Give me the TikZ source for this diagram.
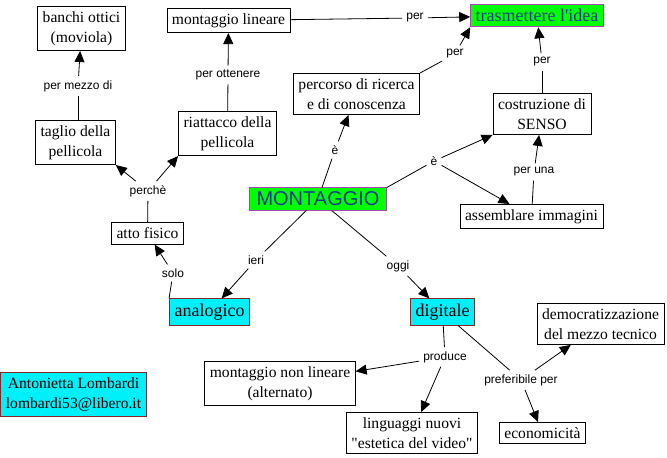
\documentclass[tikz,border=0pt]{standalone}
\usepackage{fontspec}
\setmainfont{Liberation Serif}[Ligatures=TeXOff]
\setsansfont{Liberation Sans}
\usetikzlibrary{arrows.meta}
\definecolor{kgreen}{RGB}{0,255,0}
\definecolor{kcyan}{RGB}{0,240,250}
\definecolor{kpurple}{RGB}{170,70,180}
\definecolor{kred}{RGB}{130,40,40}
\definecolor{kblue}{RGB}{20,55,150}
\tikzset{
  concept/.style={draw=black, line width=0.9pt, fill=white, align=center, inner xsep=5pt, inner ysep=5pt, font=\fontsize{15.6}{20}\selectfont},
  greenbox/.style={concept, fill=kgreen, draw=kpurple, text=kblue, font=\fontsize{18}{21}\selectfont},
  cyanbox/.style={concept, fill=kcyan, draw=kred, font=\fontsize{18}{21}\selectfont},
  lbl/.style={font=\sffamily\fontsize{12}{14}\selectfont, inner sep=4pt, fill=white},
  link/.style={line width=0.8pt},
  arr/.style={line width=0.8pt, -{Triangle[length=11pt,width=10pt]}},
}
\begin{document}
\begin{tikzpicture}[x=1pt,y=-1pt]
\useasboundingbox (0,0) rectangle (667,458);
% concepts
\node[concept] (banchi) at (81.5,28.5) {banchi ottici\\(moviola)};
\node[concept] (mlin) at (228.5,20.5) {montaggio lineare};
\node[greenbox] (idea) at (537,15.5) {trasmettere l'idea};
\node[concept] (perc) at (356.5,94) {percorso di ricerca\\e di conoscenza};
\node[concept] (senso) at (542,114) {costruzione di\\SENSO};
\node[concept] (taglio) at (75.5,142.5) {taglio della\\pellicola};
\node[concept] (riatt) at (227.5,133.5) {riattacco della\\pellicola};
\node[greenbox, font=\sffamily\fontsize{20}{22}\selectfont, inner xsep=7pt, inner ysep=4pt] (mont) at (318,199) {MONTAGGIO};
\node[concept] (assem) at (531.5,216.5) {assemblare immagini};
\node[concept] (atto) at (147.5,233.5) {atto fisico};
\node[cyanbox] (analog) at (209.5,312) {analogico};
\node[cyanbox] (digit) at (442.5,312) {digitale};
\node[concept] (democ) at (600.5,324) {democratizzazione\\del mezzo tecnico};
\node[concept] (nonlin) at (280,383.5) {montaggio non lineare\\(alternato)};
\node[concept] (lingu) at (412,433) {linguaggi nuovi\\"estetica del video"};
\node[concept] (econ) at (542.5,433) {economicità};
\node[cyanbox, font=\fontsize{15.6}{20}\selectfont] (autore) at (73.5,394.5) {Antonietta Lombardi\\lombardi53@libero.it};
% labels
\node[lbl] (l1) at (78,86) {per mezzo di};
\node[lbl] (l2) at (228,75) {per ottenere};
\node[lbl] (l3) at (415,18) {per};
\node[lbl] (l4) at (455,54) {per};
\node[lbl] (l5) at (542,62) {per};
\node[lbl] (l6) at (148,191) {perchè};
\node[lbl] (l7) at (173,273) {solo};
\node[lbl] (l8) at (256,260) {ieri};
\node[lbl] (l9) at (398,266) {oggi};
\node[lbl] (l10) at (335,150) {è};
\node[lbl] (l11) at (434,161) {è};
\node[lbl] (l12) at (534,172) {per una};
\node[lbl] (l13) at (445,357) {produce};
\node[lbl] (l14) at (521,380) {preferibile per};
% connectors
\draw[link] (taglio.north -| l1) -- (l1);
\draw[arr] (l1) -- (banchi);
\draw[link] (riatt) -- (l2);
\draw[arr] (l2) -- (mlin);
\draw[link] (mlin) -- (l3);
\draw[arr] (l3) -- (idea);
\draw[link] (perc.north east) -- (l4);
\draw[arr] (l4) -- (idea.south west);
\draw[link] (senso) -- (l5);
\draw[arr] (l5) -- (idea);
\draw[link] (atto) -- (l6);
\draw[arr] (l6) -- (taglio.south east);
\draw[arr] (l6) -- (riatt.south west);
\draw[link] (analog.north west) -- (l7);
\draw[arr] (l7) -- (atto);
\draw[link] (mont) -- (l8);
\draw[arr] (l8) -- (analog);
\draw[link] (mont) -- (l9);
\draw[arr] (l9) -- (digit);
\draw[link] (mont) -- (l10);
\draw[arr] (l10) -- (perc);
\draw[link] (mont.north east) -- (l11);
\draw[arr] (l11) -- (senso.south west);
\draw[arr] (l11) -- (assem);
\draw[link] (assem) -- (l12);
\draw[arr] (l12) -- (senso);
\draw[link] (digit) -- (l13);
\draw[arr] (l13) -- (nonlin);
\draw[arr] (l13) -- (lingu);
\draw[link] (digit) -- (l14);
\draw[arr] (l14) -- (democ);
\draw[arr] (l14) -- (econ);
\end{tikzpicture}
\end{document}
